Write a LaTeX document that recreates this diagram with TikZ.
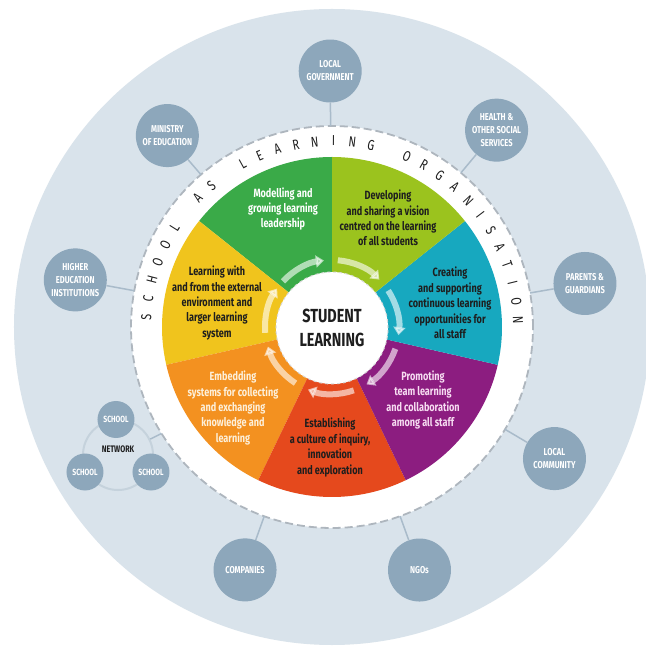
\documentclass[tikz,border=0pt]{standalone}
\usepackage{fontspec}
\setmainfont{Fira Sans}[FakeStretch=0.76]
\usetikzlibrary{arrows.meta}

\definecolor{outerbg}{HTML}{D9E3EB}
\definecolor{satfill}{HTML}{8DA7BB}
\definecolor{linkgray}{HTML}{A9BBCA}
\definecolor{netring}{HTML}{C5D2DC}
\definecolor{dashgray}{HTML}{AEB6BE}
\definecolor{secgreen}{HTML}{3AAA48}
\definecolor{seclime}{HTML}{9BC31E}
\definecolor{secteal}{HTML}{17A8BF}
\definecolor{secpurple}{HTML}{8C1D80}
\definecolor{secred}{HTML}{E5491D}
\definecolor{secorange}{HTML}{F39120}
\definecolor{secyellow}{HTML}{F0C41D}
\definecolor{darktext}{HTML}{1E1E1E}
\definecolor{creamtext}{HTML}{FDF0DA}
\definecolor{pinktext}{HTML}{F7DDF2}

\tikzset{
  sat/.style={circle, fill=satfill, minimum size=63bp, inner sep=0pt, align=center,
    text=white, font=\fontsize{10}{13}\selectfont\bfseries},
  school/.style={sat, minimum size=37bp, font=\fontsize{9}{10}\selectfont\bfseries},
  link/.style={draw=linkgray, line width=1.5bp},
  sectext/.style={align=center, font=\fontsize{12}{15.5}\selectfont\bfseries},
  ringletter/.style={text=darktext, font=\fontsize{14.5}{14.5}\selectfont, inner sep=0pt},
  cycarrow/.style={white, opacity=0.6, line width=6bp, -{Triangle[length=8bp, width=12bp]}},
}

\begin{document}
\begin{tikzpicture}[x=1bp, y=1bp]

\useasboundingbox (-332,-320) rectangle (314,327);
\clip (-332,-320) rectangle (314,327);
\fill[white] (-332,-320) rectangle (314,327);

%Draw outer circle
\fill[outerbg] (0,0) circle (318);

%Draw white ring
\fill[white] (0,0) circle (201);
\draw[dashgray, line width=1.8bp, dash pattern=on 8bp off 4bp] (0,0) circle (201);

%Draw sectors
\foreach \ang/\col in {90/secgreen, 141.43/secyellow, 192.86/secorange, 244.29/secred,
                      295.71/secpurple, 347.14/secteal, 38.57/seclime} {
\fill[\col] (0,0) -- (\ang:170) arc[start angle=\ang, end angle=\ang+51.43, radius=170] -- cycle;
}

%Draw ring letters
\foreach \ch [count=\i from 0, evaluate=\i as \ang using 177-\i*5.83] in
  {S,C,H,O,O,L,{},A,S,{},L,E,A,R,N,I,N,G,{},O,R,G,A,N,I,S,A,T,I,O,N} {
\node[ringletter, rotate=\ang-90] (ch\i) at (\ang:186) {\ch};
}

%Draw cycle arrows
\foreach \ang in {137, 85, 33, -19, -71, -123, -175} {
\draw[cycarrow] (\ang:67) arc[start angle=\ang, end angle=\ang-40, radius=67];
}

%Draw centre
\node[circle, fill=white, draw=gray!30, dashed, line width=1bp, minimum size=112bp,
      align=center, text=darktext, font=\fontsize{19}{24}\selectfont\bfseries]
      (student) at (0,-1) {STUDENT\\LEARNING};

%Draw sector texts
\node[sectext, text=white] (modelling) at (-49,118) {Modelling and\\growing learning\\leadership};
\node[sectext, text=darktext] (vision) at (56,109) {Developing\\and sharing a vision\\centred on the learning\\of all students};
\node[sectext, text=darktext] (creating) at (118,24) {Creating\\and supporting\\continuous learning\\opportunities for\\all staff};
\node[sectext, text=pinktext] (promoting) at (91,-73) {Promoting\\team learning\\and collaboration\\among all staff};
\node[sectext, text=darktext] (inquiry) at (-2,-120.5) {Establishing\\a culture of inquiry,\\innovation\\and exploration};
\node[sectext, text=creamtext] (embedding) at (-99,-81) {Embedding\\systems for collecting\\and exchanging\\knowledge and\\learning};
\node[sectext, text=darktext] (external) at (-115,24) {Learning with\\and from the external\\environment and\\larger learning\\system};

%Draw partners
\foreach \name/\ang/\rad/\txt in {lgov/90.4/256/{LOCAL\\GOVERNMENT},
    ministry/130.7/252.5/{MINISTRY\\OF EDUCATION},
    health/50.1/256.6/{HEALTH \&\\OTHER SOCIAL\\SERVICES},
    higher/169.6/261/{HIGHER\\EDUCATION\\INSTITUTIONS},
    parents/9.76/256.7/{PARENTS \&\\GUARDIANS},
    community/-30.6/258.5/{LOCAL\\COMMUNITY},
    companies/-109.7/258/{COMPANIES},
    ngos/-70.2/258.3/{NGOs}} {
\node[sat] (\name) at (\ang:\rad) {\txt};
\coordinate (\name-r) at (\ang:201);
\draw[link] (\name) -- (\name-r);
}

%Draw school network
\node[circle, draw=netring, line width=2bp, minimum size=70bp, inner sep=0pt] (net) at (-214,-128) {};
\coordinate (net-r) at (212:201);
\draw[link] (net) -- (net-r);
\node[text=darktext, font=\fontsize{9.5}{10}\selectfont\bfseries] (nettxt) at (-214,-122) {NETWORK};
\node[school] (school1) at (-216,-92.5) {SCHOOL};
\node[school] (school2) at (-247,-145) {SCHOOL};
\node[school] (school3) at (-181,-145) {SCHOOL};

\end{tikzpicture}
\end{document}
